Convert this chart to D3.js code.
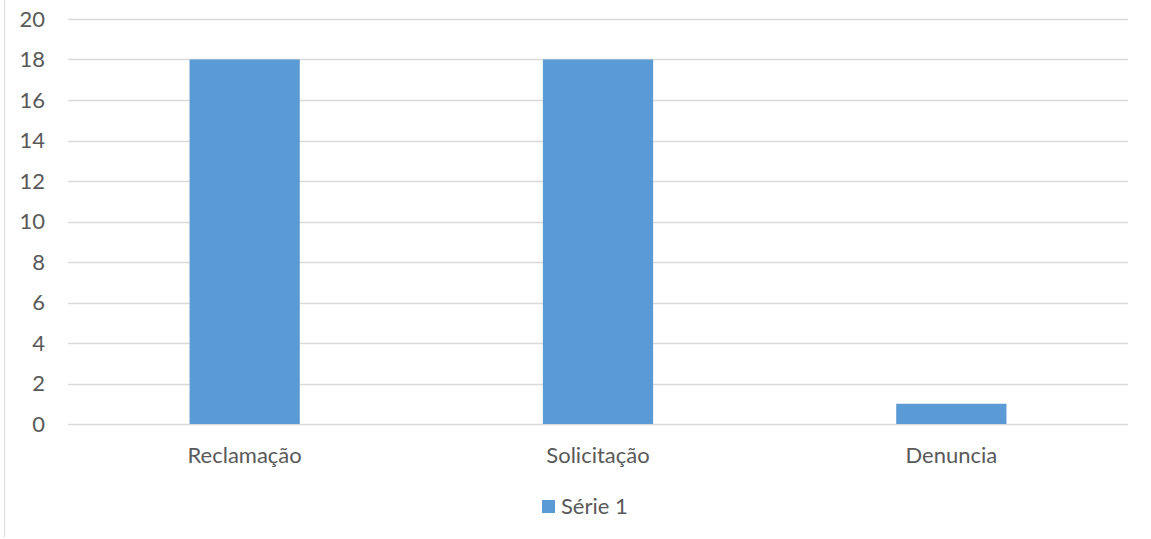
<!DOCTYPE html>
<html lang="pt">
<head>
<meta charset="UTF-8">
<title>Gráfico</title>
<script src="https://d3js.org/d3.v7.min.js"></script>
<style>
  html, body { margin: 0; padding: 0; background: #fff; }
  svg { display: block; font-family: Lato, "Open Sans", sans-serif; }
</style>
</head>
<body>
<div id="chart"></div>
<script>
// dados
const categories = ["Reclamação", "Solicitação", "Denuncia"];
const values = [18, 18, 1];
const seriesName = "Série 1";
const yTicks = [0, 2, 4, 6, 8, 10, 12, 14, 16, 18, 20];

const width = 1151, height = 539;
const margin = { top: 19, left: 68, right: 23, bottom: 115 };
const innerW = width - margin.left - margin.right;
const innerH = height - margin.top - margin.bottom;
const fontSize = 22;

const svg = d3.select("#chart").append("svg")
  .attr("width", width)
  .attr("height", height);

// borda esquerda
svg.append("line")
  .attr("x1", 4.5).attr("x2", 4.5)
  .attr("y1", 0).attr("y2", 537)
  .attr("stroke", "#d9d9d9").attr("stroke-width", 1);

const g = svg.append("g").attr("transform", `translate(${margin.left},${margin.top})`);

const x = d3.scaleBand().domain(categories).range([0, innerW]).paddingInner(0.688).paddingOuter(0.344);
const y = d3.scaleLinear().domain([0, 20]).range([innerH, 0]);

// linhas de grade
g.selectAll(".grid").data(yTicks).enter().append("line")
  .attr("x1", 0).attr("x2", innerW)
  .attr("y1", d => Math.round(y(d)) + 0.5).attr("y2", d => Math.round(y(d)) + 0.5)
  .attr("stroke", "#d9d9d9").attr("stroke-width", 1.5);

// rótulos do eixo y
g.selectAll(".ylab").data(yTicks).enter().append("text")
  .attr("x", -23).attr("y", d => y(d))
  .attr("dy", "0.36em")
  .attr("text-anchor", "end")
  .attr("font-size", fontSize)
  .attr("fill", "#595959")
  .text(d => d);

// barras
g.selectAll("rect.bar").data(values).enter().append("rect")
  .attr("class", "bar")
  .attr("x", (d, i) => x(categories[i]))
  .attr("y", d => y(d))
  .attr("width", x.bandwidth())
  .attr("height", d => innerH - y(d))
  .attr("fill", "#5b9bd5");

// rótulos das categorias
g.selectAll(".xlab").data(categories).enter().append("text")
  .attr("x", d => x(d) + x.bandwidth() / 2)
  .attr("y", innerH + 39)
  .attr("text-anchor", "middle")
  .attr("font-size", fontSize)
  .attr("fill", "#595959")
  .text(d => d);

// legenda
const lg = svg.append("g").attr("transform", "translate(542,500)");
lg.append("rect").attr("width", 13).attr("height", 13).attr("fill", "#5b9bd5");
lg.append("text").attr("x", 19).attr("y", 6.5).attr("dy", "0.36em")
  .attr("font-size", fontSize).attr("fill", "#595959").text(seriesName);
</script>
</body>
</html>
